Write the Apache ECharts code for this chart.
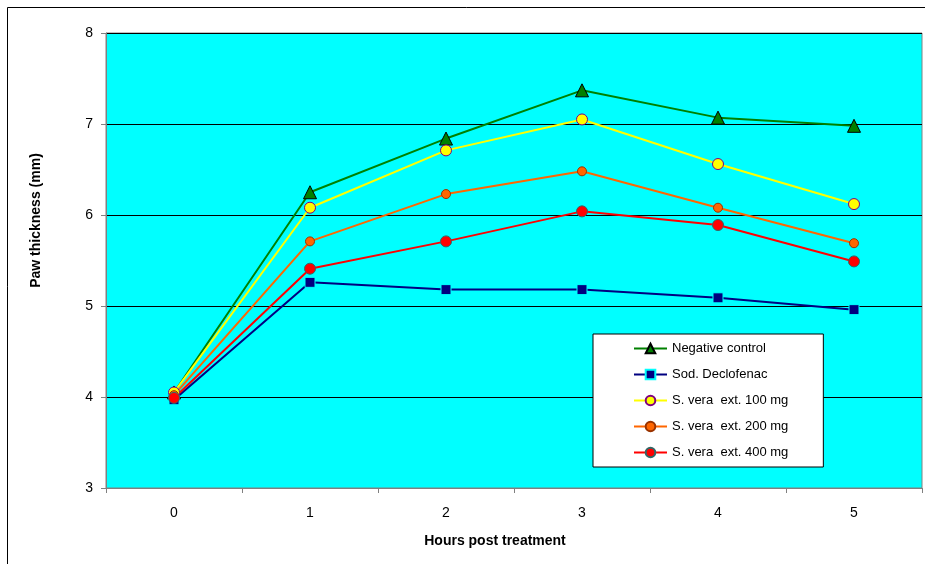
<!DOCTYPE html>
<html>
<head>
<meta charset="UTF-8">
<title>Paw thickness</title>
<script src="https://cdn.jsdelivr.net/npm/echarts@6/dist/echarts.min.js"></script>
<style>
 body{margin:0;background:#fff;}
 #mainChart{width:925px;height:564px;}
</style>
</head>
<body>
<div id="mainChart"></div>
<script type="text/javascript">
// hours post treatment
var hours = ['0', '1', '2', '3', '4', '5'];
var seriesNames = ['Negative control', 'Sod. Declofenac', 'S. vera  ext. 100 mg', 'S. vera  ext. 200 mg', 'S. vera  ext. 400 mg'];
// paw thickness (mm)
var negControl = [4.05, 6.25, 6.84, 7.37, 7.07, 6.98];
var sodDeclofenac = [3.97, 5.26, 5.18, 5.18, 5.09, 4.96];
var vera100 = [4.05, 6.08, 6.71, 7.05, 6.56, 6.12];
var vera200 = [4.02, 5.71, 6.23, 6.48, 6.08, 5.69];
var vera400 = [3.99, 5.41, 5.71, 6.04, 5.89, 5.49];
var yTicks = [3, 4, 5, 6, 7, 8];

var myChart = echarts.init(document.getElementById('mainChart'));
var font = 'Liberation Sans, Arial, sans-serif';

function makeSeries(name, data, color, symbol, size, fill, border) {
    return {
        name: name,
        type: 'line',
        data: data,
        symbol: symbol,
        symbolSize: size,
        showAllSymbol: true,
        lineStyle: {color: color, width: 2},
        itemStyle: {color: fill, borderColor: border, borderWidth: 1},
        emphasis: {disabled: true}
    };
}

var option = {
    animation: false,
    backgroundColor: '#ffffff',
    graphic: [{
        type: 'rect',
        shape: {x: 7.5, y: 7.5, width: 940, height: 600},
        style: {fill: 'none', stroke: '#000', lineWidth: 1},
        silent: true
    }],
    legend: {
        orient: 'vertical',
        left: 593,
        top: 334,
        padding: [8, 35, 8, 40],
        itemGap: 13,
        itemWidth: 33,
        itemHeight: 12,
        backgroundColor: '#ffffff',
        borderColor: '#000000',
        borderWidth: 1,
        textStyle: {fontFamily: font, fontSize: 13, color: '#000'},
        data: seriesNames
    },
    grid: {
        left: 106,
        top: 33,
        width: 816,
        height: 455,
        show: true,
        backgroundColor: '#00ffff',
        borderColor: '#808080',
        borderWidth: 1
    },
    xAxis: {
        type: 'category',
        data: hours,
        name: 'Hours post treatment',
        nameLocation: 'middle',
        nameGap: 46,
        nameTextStyle: {fontFamily: font, fontSize: 14, fontWeight: 'bold', color: '#000', padding: [0, 38, 0, 0]},
        axisLine: {lineStyle: {color: '#808080', width: 1}},
        axisTick: {show: true, length: 5, lineStyle: {color: '#808080'}},
        axisLabel: {fontFamily: font, fontSize: 14, color: '#000', margin: 18},
        splitLine: {show: false}
    },
    yAxis: {
        type: 'value',
        min: yTicks[0],
        max: yTicks[yTicks.length - 1],
        interval: 1,
        name: 'Paw thickness (mm)',
        nameLocation: 'middle',
        nameRotate: 90,
        nameGap: 63,
        nameTextStyle: {fontFamily: font, fontSize: 14, fontWeight: 'bold', color: '#000', padding: [0, 0, 0, 80]},
        axisLine: {show: true, lineStyle: {color: '#808080', width: 1}},
        axisTick: {show: true, length: 5, lineStyle: {color: '#808080'}},
        axisLabel: {fontFamily: font, fontSize: 14, color: '#000', margin: 13},
        splitLine: {show: true, lineStyle: {color: '#000', width: 1}}
    },
    series: [
        makeSeries(seriesNames[0], negControl, '#008000', 'triangle', 13, '#008000', '#000000'),
        makeSeries(seriesNames[1], sodDeclofenac, '#000080', 'rect', 10, '#000080', '#00ffff'),
        makeSeries(seriesNames[2], vera100, '#ffff00', 'circle', 11, '#ffff00', '#800080'),
        makeSeries(seriesNames[3], vera200, '#ff6600', 'circle', 9, '#ff6600', '#993300'),
        makeSeries(seriesNames[4], vera400, '#ff0000', 'circle', 11, '#ff0000', '#336666')
    ]
};
myChart.setOption(option);
</script>
</body>
</html>
